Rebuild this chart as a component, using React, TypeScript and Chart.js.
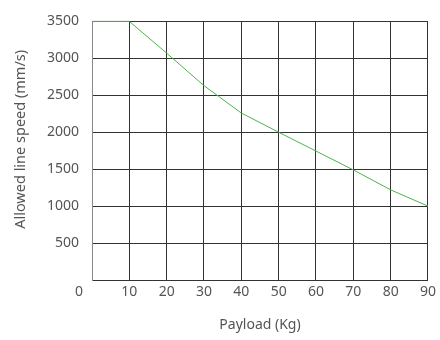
import React, { useEffect, useRef } from "react";
import { Chart, registerables } from "chart.js";

Chart.register(...registerables);

const payloadKg = [0, 10, 20, 30, 40, 50, 60, 70, 80, 90];
const lineSpeed = [3500, 3500, 3070, 2630, 2260, 2000, 1745, 1490, 1220, 1000];
const xTitle = "Payload (Kg)";
const yTitle = "Allowed line speed (mm/s)";
const cornerLabel = "0";

const FONT = "'Noto Sans', sans-serif";
const TEXT = "#555";
const GRID = "#333";

export default function App() {
  const ref = useRef<HTMLCanvasElement | null>(null);

  useEffect(() => {
    document.body.style.margin = "0";
    const canvas = ref.current;
    if (!canvas) return;

    const cornerPlugin = {
      id: "cornerZero",
      afterDraw(chart: any) {
        const { ctx, chartArea } = chart;
        ctx.save();
        ctx.font = `14px ${FONT}`;
        ctx.fillStyle = TEXT;
        ctx.textAlign = "center";
        ctx.textBaseline = "middle";
        ctx.fillText(cornerLabel, chartArea.left - 13, chartArea.bottom + 12);
        ctx.restore();
      },
    };

    const chart = new Chart(canvas, {
      type: "line",
      data: {
        datasets: [
          {
            data: payloadKg.map((x, i) => ({ x, y: lineSpeed[i] })),
            borderColor: "#4db34d",
            borderWidth: 1,
            pointRadius: 0,
            tension: 0,
            fill: false,
            clip: false,
          },
        ],
      },
      options: {
        animation: false,
        responsive: false,
        devicePixelRatio: 1,
        layout: { padding: { top: 16, right: 9, bottom: 0, left: 0 } },
        plugins: {
          legend: { display: false },
          tooltip: { enabled: false },
        },
        scales: {
          x: {
            type: "linear",
            min: 0,
            max: 90,
            afterFit: (s: any) => {
              s.height = 60;
            },
            ticks: {
              stepSize: 10,
              padding: 4,
              color: TEXT,
              font: { family: FONT, size: 14 },
              maxRotation: 0,
              callback: (v: any) => (v === 0 ? "" : String(v)),
            },
            grid: { color: GRID, drawTicks: false, lineWidth: 1 },
            border: { color: GRID },
            title: {
              display: true,
              text: xTitle,
              color: TEXT,
              font: { family: FONT, size: 14 },
              padding: { top: 0, bottom: 7 },
            },
          },
          y: {
            min: 0,
            max: 3500,
            afterFit: (s: any) => {
              s.width = 92;
            },
            ticks: {
              stepSize: 500,
              padding: 13,
              color: TEXT,
              font: { family: FONT, size: 14 },
              callback: (v: any) => (v === 0 ? "" : String(v)),
            },
            grid: { color: GRID, drawTicks: false, lineWidth: 1 },
            border: { color: "#888" },
            title: {
              display: true,
              text: "      " + yTitle,
              color: TEXT,
              font: { family: FONT, size: 14.5 },
              padding: { top: 12, bottom: 0 },
            },
          },
        },
      },
      plugins: [cornerPlugin],
    });

    return () => chart.destroy();
  }, []);

  return (
    <div style={{ width: 440, height: 340, background: "#fff" }}>
      <canvas ref={ref} width={440} height={340} />
    </div>
  );
}
